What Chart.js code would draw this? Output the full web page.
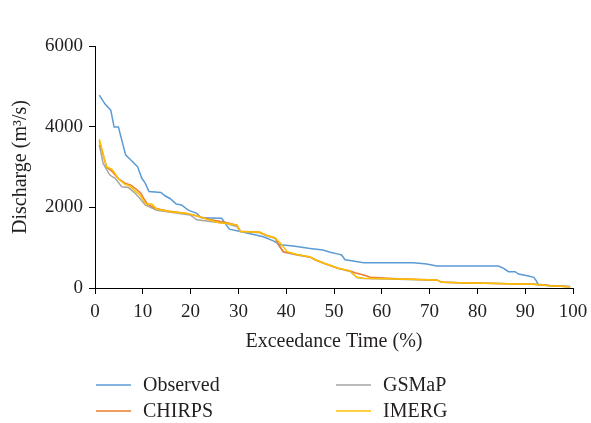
<!DOCTYPE html>
<html>
<head>
<meta charset="utf-8">
<title>Flow duration curves</title>
<script src="https://cdn.jsdelivr.net/npm/chart.js@4.4.0/dist/chart.umd.min.js"></script>
<style>
    html, body { margin: 0; padding: 0; background: #fff; }
    #wrap { width: 591px; height: 423px; }
</style>
</head>
<body>
<div id="wrap"><canvas id="fdc" width="591" height="423"></canvas></div>
<script>
// Curvas de duración de caudales: observado vs. productos satelitales
const observedX = [0.9, 2.1, 3.3, 4.0, 4.9, 6.4, 7.7, 8.9, 9.8, 10.5, 11.3, 13.8, 14.7, 15.7, 17.0, 18.1, 19.5, 21.3, 22.2, 26.5, 28.1, 30.4, 35.2, 37.3, 38.7, 41.5, 45.0, 47.7, 49.2, 50.9, 51.6, 52.3, 53.7, 56.2, 66.6, 69.4, 71.5, 84.4, 85.5, 86.5, 87.9, 88.6, 90.7, 91.8, 92.3, 92.7, 95.0, 99.4];
const observedY = [4780, 4560, 4410, 3990, 3990, 3300, 3150, 3010, 2720, 2600, 2390, 2370, 2280, 2220, 2080, 2060, 1930, 1850, 1740, 1730, 1460, 1400, 1270, 1170, 1070, 1040, 980, 940, 885, 840, 818, 700, 677, 627, 627, 595, 545, 545, 488, 405, 405, 347, 298, 265, 182, 91, 60, 40];

const chirpsX = [0.9, 2.4, 3.5, 4.2, 5.0, 6.3, 7.5, 8.6, 9.6, 10.3, 11.0, 12.5, 15.7, 19.2, 21.5, 24.1, 27.6, 29.7, 30.4, 34.5, 36.0, 37.7, 38.4, 39.4, 42.2, 45.0, 46.1, 47.8, 50.9, 53.4, 54.4, 56.2, 57.6, 63.2, 71.5, 72.6, 76.4, 91.8, 95.3, 99.4];
const chirpsY = [3650, 3000, 2900, 2800, 2700, 2600, 2550, 2450, 2350, 2200, 2080, 1980, 1900, 1850, 1780, 1700, 1620, 1560, 1410, 1380, 1300, 1240, 1080, 900, 830, 770, 700, 620, 490, 420, 380, 322, 265, 230, 200, 141, 132, 91, 58, 33];

const gsmapX = [0.9, 1.7, 3.1, 4.2, 5.6, 7.0, 8.4, 9.4, 10.5, 12.9, 19.9, 21.3, 24.1, 27.6, 29.7, 30.4, 34.5, 36.0, 37.7, 38.4, 39.4, 42.2, 45.0, 46.1, 47.8, 50.9, 53.4, 54.8, 56.2, 63.2, 71.5, 72.6, 76.4, 91.8, 95.3, 99.4];
const gsmapY = [3550, 3090, 2800, 2720, 2510, 2490, 2350, 2220, 2060, 1930, 1810, 1690, 1650, 1600, 1520, 1400, 1370, 1290, 1230, 1060, 890, 820, 760, 690, 610, 480, 410, 260, 235, 220, 195, 140, 130, 90, 55, 30];

const imergX = [0.9, 2.4, 3.5, 4.2, 4.9, 6.3, 7.3, 8.4, 9.4, 10.1, 10.7, 11.9, 12.9, 15.7, 19.2, 21.3, 23.7, 26.0, 27.6, 29.7, 30.4, 34.5, 36.0, 37.7, 39.0, 40.2, 42.2, 45.0, 46.1, 47.8, 50.9, 53.4, 54.8, 56.2, 63.2, 71.5, 72.6, 76.4, 91.8, 95.3, 99.4];
const imergY = [3690, 3010, 2950, 2840, 2700, 2570, 2530, 2400, 2310, 2180, 2080, 2080, 1960, 1890, 1850, 1790, 1690, 1620, 1600, 1560, 1400, 1380, 1300, 1240, 1080, 900, 830, 770, 700, 620, 490, 420, 265, 240, 225, 200, 140, 132, 91, 58, 33];

const xTicks = [0, 10, 20, 30, 40, 50, 60, 70, 80, 90, 100];
const yTicks = [0, 2000, 4000, 6000];

const SERIF = '"Liberation Serif", "DejaVu Serif", serif';
const INK = '#231f20';

const toPoints = (xs, ys) => xs.map((x, i) => ({ x: x, y: ys[i] }));

const series = [
    { label: 'Observed', xs: observedX, ys: observedY, color: '#5B9BD5', order: 4 },
    { label: 'CHIRPS', xs: chirpsX, ys: chirpsY, color: '#ED7D31', order: 2 },
    { label: 'GSMaP', xs: gsmapX, ys: gsmapY, color: '#A5A5A5', order: 3 },
    { label: 'IMERG', xs: imergX, ys: imergY, color: '#FFC000', order: 1 }
];

// leyenda en dos columnas, dibujada a mano debajo del gráfico
const gridLegend = {
    id: 'gridLegend',
    afterDraw(chart) {
        const ctx = chart.ctx;
        const cols = [96, 336];
        const rows = [385, 411];
        const slots = { 'Observed': [0, 0], 'GSMaP': [1, 0], 'CHIRPS': [0, 1], 'IMERG': [1, 1] };
        ctx.save();
        ctx.font = '20px ' + SERIF;
        ctx.textBaseline = 'middle';
        ctx.fillStyle = INK;
        chart.data.datasets.forEach(ds => {
            const s = slots[ds.label];
            const x = cols[s[0]], y = rows[s[1]];
            ctx.strokeStyle = ds.borderColor;
            ctx.lineWidth = 1.5;
            ctx.beginPath();
            ctx.moveTo(x, y);
            ctx.lineTo(x + 35, y);
            ctx.stroke();
            ctx.fillText(ds.label, x + 47, y + 1);
        });
        ctx.restore();
    }
};

new Chart(document.getElementById('fdc'), {
    type: 'line',
    data: {
        datasets: series.map(s => ({
            label: s.label,
            data: toPoints(s.xs, s.ys),
            borderColor: s.color,
            backgroundColor: s.color,
            borderWidth: 1.5,
            pointRadius: 0,
            tension: 0,
            fill: false,
            order: s.order
        }))
    },
    options: {
        responsive: false,
        animation: false,
        devicePixelRatio: 1,
        layout: { padding: { left: 0, right: 18, top: 46, bottom: 69 } },
        plugins: {
            legend: { display: false },
            tooltip: { enabled: false }
        },
        scales: {
            x: {
                type: 'linear',
                min: 0,
                max: 100,
                afterBuildTicks: (scale) => { scale.ticks = xTicks.map(v => ({ value: v })); },
                afterFit: (scale) => { scale.height = 66; scale.paddingRight = 0; },
                border: { color: '#000', width: 1 },
                grid: { drawOnChartArea: false, drawTicks: true, tickLength: 6, color: '#000' },
                ticks: { color: INK, padding: 7, maxRotation: 0, font: { family: SERIF, size: 19 }, callback: v => String(v) },
                title: {
                    display: true,
                    text: 'Exceedance Time (%)',
                    color: INK,
                    padding: { top: 0, bottom: 0 },
                    font: { family: SERIF, size: 20 }
                }
            },
            y: {
                min: 0,
                max: 6000,
                afterBuildTicks: (scale) => { scale.ticks = yTicks.map(v => ({ value: v })); },
                afterFit: (scale) => { scale.width = 95; },
                border: { color: '#000', width: 1 },
                grid: { drawOnChartArea: false, drawTicks: true, tickLength: 6, color: '#000' },
                ticks: { color: INK, padding: 6, font: { family: SERIF, size: 19 }, callback: v => String(v) },
                title: {
                    display: true,
                    text: 'Discharge (m³/s)',
                    color: INK,
                    padding: { top: 9, bottom: 0 },
                    font: { family: SERIF, size: 20 }
                }
            }
        }
    },
    plugins: [gridLegend]
});
</script>
</body>
</html>
